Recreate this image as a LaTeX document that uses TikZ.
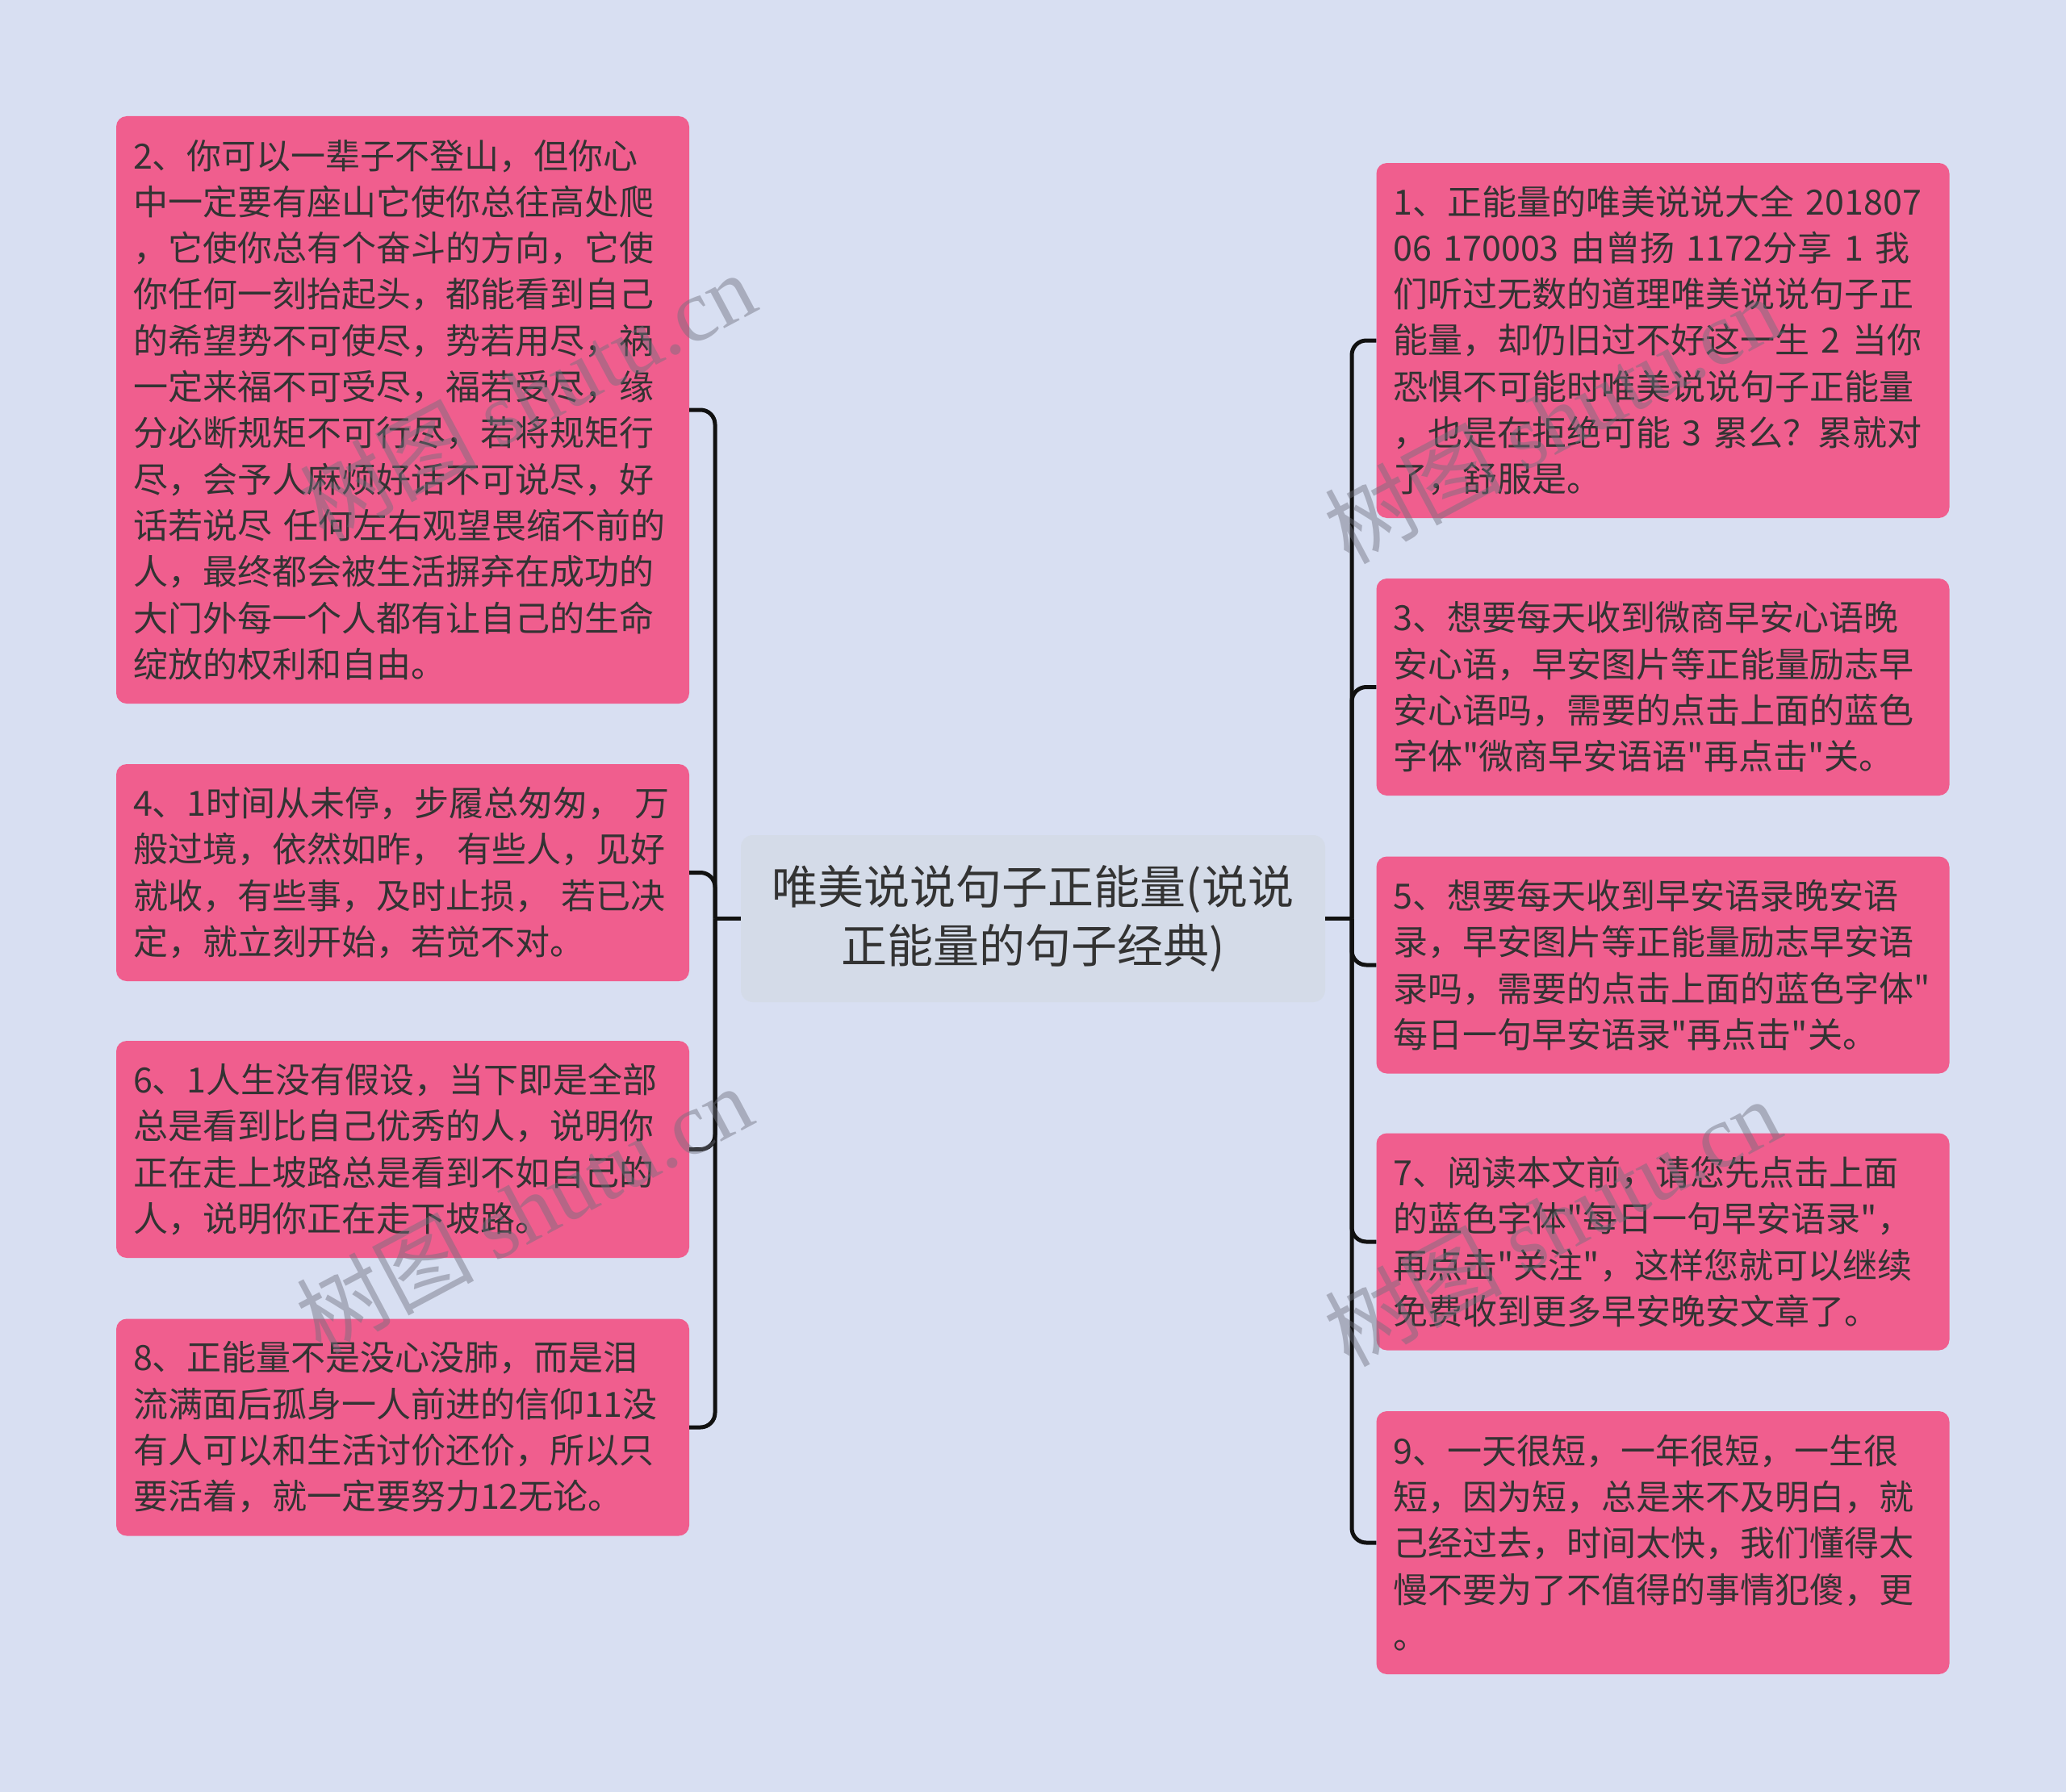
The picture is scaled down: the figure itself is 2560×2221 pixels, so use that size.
\documentclass[tikz,border=0pt]{standalone}
\usepackage{fontspec}
\setmainfont{Noto Sans CJK SC}
\newfontfamily\cjkplain{Noto Sans CJK SC}
\newfontfamily\wmlatin{Liberation Serif}
\newfontfamily\wmcjk{Noto Sans CJK SC}
\definecolor{bgc}{RGB}{216,223,242}
\definecolor{pinkc}{RGB}{240,94,142}
\definecolor{centc}{RGB}{212,219,232}
\definecolor{txtc}{RGB}{51,51,51}
\definecolor{linec}{RGB}{17,17,17}
\definecolor{wmc}{RGB}{110,112,125}
\tikzset{
  leaf/.style={fill=pinkc, rounded corners=13pt, text=txtc,
    font=\cjkplain\fontsize{43}{57.3}\selectfont, align=left,
    inner xsep=21pt, inner ysep=0pt, text width=668pt},
  root/.style={fill=centc, rounded corners=15pt, text=txtc,
    font=\cjkplain\fontsize{57}{73.5}\selectfont, align=center,
    minimum width=724pt, minimum height=207pt, inner sep=0pt},
  conn/.style={draw=linec, line width=5pt, rounded corners=18pt},
  wm/.style={text=wmc, text opacity=0.45, rotate=28, inner sep=0pt,
    font=\fontsize{110}{110}\selectfont}
}
\begin{document}
\begin{tikzpicture}[x=1pt, y=-1pt]
\fill[bgc] (0,0) rectangle (2560,2221);
\useasboundingbox (0,0) rectangle (2560,2221);

% centre
\node[root] (c) at (1280,1138.5) {唯美说说句子正能量(说说\\正能量的句子经典)};

% left boxes
\node[leaf, minimum height=728pt] (b2) at (499,508) {%
\mbox{2、你可以一辈子不登山，但你心}\\
\mbox{中一定要有座山它使你总往高处爬}\\
\mbox{，它使你总有个奋斗的方向，它使}\\
\mbox{你任何一刻抬起头，都能看到自己}\\
\mbox{的希望势不可使尽，势若用尽，祸}\\
\mbox{一定来福不可受尽，福若受尽，缘}\\
\mbox{分必断规矩不可行尽，若将规矩行}\\
\mbox{尽，会予人麻烦好话不可说尽，好}\\
\mbox{话若说尽 任何左右观望畏缩不前的}\\
\mbox{人，最终都会被生活摒弃在成功的}\\
\mbox{大门外每一个人都有让自己的生命}\\
\mbox{绽放的权利和自由。}};

\node[leaf, minimum height=269pt] (b4) at (499,1081.5) {%
\mbox{4、1时间从未停，步履总匆匆， 万}\\
\mbox{般过境，依然如昨， 有些人，见好}\\
\mbox{就收，有些事，及时止损， 若已决}\\
\mbox{定，就立刻开始，若觉不对。}};

\node[leaf, minimum height=269pt] (b6) at (499,1424.5) {%
\mbox{6、1人生没有假设，当下即是全部}\\
\mbox{总是看到比自己优秀的人，说明你}\\
\mbox{正在走上坡路总是看到不如自己的}\\
\mbox{人，说明你正在走下坡路。}};

\node[leaf, minimum height=269pt] (b8) at (499,1769) {%
\mbox{8、正能量不是没心没肺，而是泪}\\
\mbox{流满面后孤身一人前进的信仰11没}\\
\mbox{有人可以和生活讨价还价，所以只}\\
\mbox{要活着，就一定要努力12无论。}};

% right boxes
\node[leaf, minimum height=440pt] (b1) at (2060.5,422) {%
\mbox{1、正能量的唯美说说大全 201807}\\
\mbox{06 170003 由曾扬 1172分享 1 我}\\
\mbox{们听过无数的道理唯美说说句子正}\\
\mbox{能量，却仍旧过不好这一生 2 当你}\\
\mbox{恐惧不可能时唯美说说句子正能量}\\
\mbox{，也是在拒绝可能 3 累么？累就对}\\
\mbox{了，舒服是。}};

\node[leaf, minimum height=269pt] (b3) at (2060.5,851.5) {%
\mbox{3、想要每天收到微商早安心语晚}\\
\mbox{安心语，早安图片等正能量励志早}\\
\mbox{安心语吗，需要的点击上面的蓝色}\\
\mbox{字体"微商早安语语"再点击"关。}};

\node[leaf, minimum height=269pt] (b5) at (2060.5,1196) {%
\mbox{5、想要每天收到早安语录晚安语}\\
\mbox{录，早安图片等正能量励志早安语}\\
\mbox{录吗，需要的点击上面的蓝色字体"}\\
\mbox{每日一句早安语录"再点击"关。}};

\node[leaf, minimum height=269pt] (b7) at (2060.5,1539) {%
\mbox{7、阅读本文前，请您先点击上面}\\
\mbox{的蓝色字体"每日一句早安语录"，}\\
\mbox{再点击"关注"，这样您就可以继续}\\
\mbox{免费收到更多早安晚安文章了。}};

\node[leaf, minimum height=326pt] (b9) at (2060.5,1912) {%
\mbox{9、一天很短，一年很短，一生很}\\
\mbox{短，因为短，总是来不及明白，就}\\
\mbox{己经过去，时间太快，我们懂得太}\\
\mbox{慢不要为了不值得的事情犯傻，更}\\
\mbox{。}};

% connectors
\coordinate (jl) at (886,1138.5);
\coordinate (jr) at (1675,1138.5);
\draw[conn] (c.west) -- (jl);
\draw[conn] (c.east) -- (jr);
\foreach \b in {b2,b4,b6,b8} \draw[conn] (jl) |- (\b.east);
\foreach \b in {b1,b3,b5,b7,b9} \draw[conn] (jr) |- (\b.west);

% watermarks
\node[wm] (w1) at (653,490) {\wmcjk 树图 \wmlatin shutu.cn};
\node[wm] (w2) at (649,1498) {\wmcjk 树图 \wmlatin shutu.cn};
\node[wm] (w3) at (1923,519) {\wmcjk 树图 \wmlatin shutu.cn};
\node[wm] (w4) at (1923,1514) {\wmcjk 树图 \wmlatin shutu.cn};
\end{tikzpicture}
\end{document}
